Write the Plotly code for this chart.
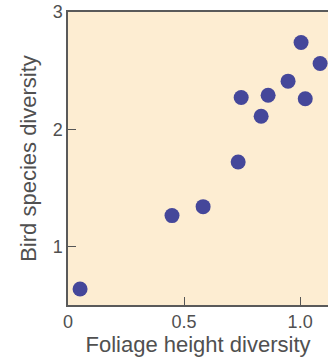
import plotly.graph_objects as go

foliage_height_diversity = [0.052, 0.448, 0.582, 0.733, 0.746, 0.832, 0.862, 0.948, 1.004, 1.022, 1.086]
bird_species_diversity = [0.636, 1.263, 1.339, 1.72, 2.27, 2.11, 2.29, 2.41, 2.74, 2.26, 2.56]

x_tickvals = [0, 0.5, 1.0]
x_ticktext = ["0", "0.5", "1.0"]
y_tickvals = [1, 2, 3]
y_ticktext = ["1", "2", "3"]

font_family = "Liberation Sans, Arial, sans-serif"
text_color = "#505050"

fig = go.Figure()
fig.add_trace(go.Scatter(
    x=foliage_height_diversity, y=bird_species_diversity,
    mode="markers",
    marker=dict(size=15, color="#45479a", line=dict(width=0)),
    hoverinfo="skip",
))

fig.update_layout(
    width=328, height=359,
    margin=dict(l=68, r=0, t=12, b=54),
    paper_bgcolor="white",
    plot_bgcolor="#fdedd2",
    showlegend=False,
    font=dict(family=font_family, size=18, color=text_color),
)
fig.update_xaxes(
    range=[0, 1.12], tickvals=x_tickvals, ticktext=x_ticktext,
    ticks="inside", ticklen=8, tickwidth=1.2, tickcolor="#555555",
    showline=True, linecolor="#5a5a5a", linewidth=1.5, mirror=True,
    showgrid=False, zeroline=False,
    title=dict(text="Foliage height diversity", standoff=5),
    tickfont=dict(size=18, color=text_color),
)
fig.update_yaxes(
    range=[0.5, 3], tickvals=y_tickvals, ticktext=y_ticktext,
    ticks="inside", ticklen=8, tickwidth=1.2, tickcolor="#555555",
    showline=True, linecolor="#5a5a5a", linewidth=1.5,
    showgrid=False, zeroline=False,
    title=dict(text="Bird species diversity", standoff=10),
    tickfont=dict(size=18, color=text_color),
)

fig.write_html(
    "out.html",
    config={"displayModeBar": False},
    post_script="document.body.style.margin='0';document.body.style.overflow='hidden';",
)
